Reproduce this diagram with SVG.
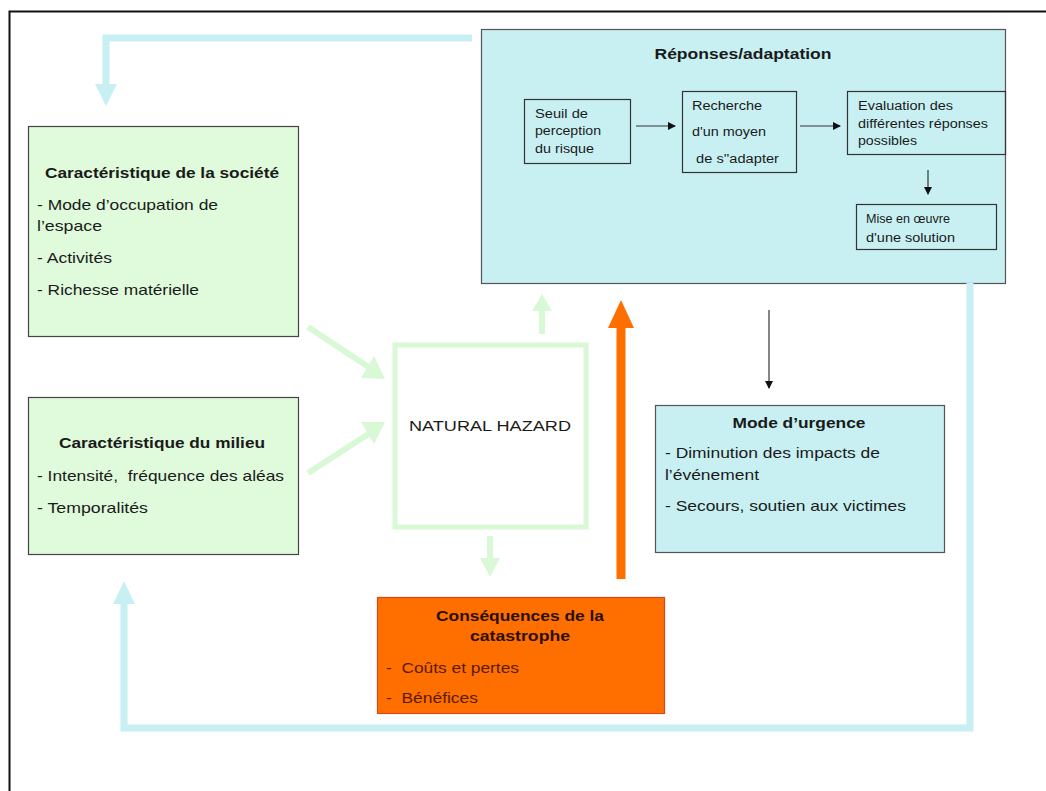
<svg xmlns="http://www.w3.org/2000/svg" width="1046" height="791" viewBox="0 0 1046 791" xml:space="preserve">
<style>
text{font-family:"Liberation Sans",Arial,sans-serif;fill:#1a1a1a;white-space:pre;}
.t{font-size:15px;}
.b{font-size:15px;font-weight:bold;}
.s{font-size:12.5px;}
.cyan{fill:#c8f0f2;stroke:#555;stroke-width:1.2;}
.green{fill:#e0fadc;stroke:#444;stroke-width:1.2;}
.sm{fill:none;stroke:#333;stroke-width:1.2;}
.lc{fill:none;stroke:#c8f0f2;stroke-width:7;}
.lg{fill:none;stroke:#d9f8d6;stroke-width:6;}
</style>
<defs>
<marker id="ab" markerWidth="8" markerHeight="8" refX="7" refY="4" orient="auto" markerUnits="userSpaceOnUse"><path d="M0,0 L8,4 L0,8 z" fill="#111"/></marker>
</defs>
<rect width="1046" height="791" fill="#fff"/>
<path d="M9.5,791 V11.5 H1046" fill="none" stroke="#111" stroke-width="2"/>

<g id="reponses">
<rect class="cyan" x="481.5" y="29.5" width="524" height="254"/>
<text class="b" x="743" y="59" text-anchor="middle" textLength="177" lengthAdjust="spacingAndGlyphs">Réponses/adaptation</text>
</g>
<g id="seuil">
<rect class="sm" x="524.5" y="99.5" width="106" height="64"/>
<text class="s" x="535" y="118" textLength="53" lengthAdjust="spacingAndGlyphs">Seuil de</text>
<text class="s" x="535" y="135" textLength="66" lengthAdjust="spacingAndGlyphs">perception</text>
<text class="s" x="535" y="153" textLength="59" lengthAdjust="spacingAndGlyphs">du risque</text>
</g>
<g id="recherche">
<rect class="sm" x="682.5" y="91.5" width="114" height="81"/>
<text class="s" x="692" y="110" textLength="70" lengthAdjust="spacingAndGlyphs">Recherche</text>
<text class="s" x="692" y="136" textLength="74" lengthAdjust="spacingAndGlyphs">d'un moyen</text>
<text class="s" x="692" y="163" textLength="87" lengthAdjust="spacingAndGlyphs"> de s''adapter</text>
</g>
<g id="evaluation">
<rect class="sm" x="847.5" y="91.5" width="158" height="63"/>
<text class="s" x="858" y="110" textLength="95" lengthAdjust="spacingAndGlyphs">Evaluation des</text>
<text class="s" x="858" y="128" textLength="130" lengthAdjust="spacingAndGlyphs">différentes réponses</text>
<text class="s" x="858" y="145" textLength="59" lengthAdjust="spacingAndGlyphs">possibles</text>
</g>
<g id="miseenoeuvre">
<rect class="sm" x="856.5" y="204.5" width="140" height="45"/>
<text class="s" x="866" y="223" textLength="84" lengthAdjust="spacingAndGlyphs">Mise en œuvre</text>
<text class="s" x="866" y="242" textLength="89" lengthAdjust="spacingAndGlyphs">d'une solution</text>
</g>

<g id="connectors">
<path class="lc" d="M472,38 H106 V86"/>
<path d="M95,84 H117 L106,106 z" fill="#c8f0f2"/>
<path class="lc" d="M970,283 V728 H124 V600"/>
<path d="M113,604 H135 L124,581 z" fill="#c8f0f2"/>
<line class="lg" x1="308" y1="327" x2="370" y2="368"/>
<path d="M361,378 L385,379 L374,356 z" fill="#d9f8d6"/>
<line class="lg" x1="308" y1="473" x2="370" y2="433"/>
<path d="M361,422 L385,422 L374,444 z" fill="#d9f8d6"/>
<line class="lg" x1="542" y1="334" x2="542" y2="310"/>
<path d="M532,311 H552 L542,294 z" fill="#d9f8d6"/>
<line class="lg" x1="490" y1="536" x2="490" y2="560"/>
<path d="M480,558 H500 L490,577 z" fill="#d9f8d6"/>
<line x1="621" y1="579" x2="621" y2="325" stroke="#ff6f00" stroke-width="9"/>
<path d="M608,328 H634 L621,300 z" fill="#ff6f00"/>
<line class="sm" x1="769" y1="310" x2="769" y2="388" marker-end="url(#ab)"/>
<line class="sm" x1="636" y1="126" x2="675" y2="126" marker-end="url(#ab)"/>
<line class="sm" x1="800" y1="126" x2="840" y2="126" marker-end="url(#ab)"/>
<line class="sm" x1="928" y1="170" x2="928" y2="194" marker-end="url(#ab)"/>
</g>

<g id="societe">
<rect class="green" x="28.5" y="126.5" width="270" height="210"/>
<text class="b" x="162" y="178" text-anchor="middle" textLength="234" lengthAdjust="spacingAndGlyphs">Caractéristique de la société</text>
<text class="t" x="37" y="210" textLength="181" lengthAdjust="spacingAndGlyphs">- Mode d’occupation de</text>
<text class="t" x="37" y="231" textLength="65" lengthAdjust="spacingAndGlyphs">l’espace</text>
<text class="t" x="37" y="263" textLength="75" lengthAdjust="spacingAndGlyphs">- Activités</text>
<text class="t" x="37" y="295" textLength="162" lengthAdjust="spacingAndGlyphs">- Richesse matérielle</text>
</g>

<g id="milieu">
<rect class="green" x="28.5" y="397.5" width="270" height="157"/>
<text class="b" x="162" y="448" text-anchor="middle" textLength="206" lengthAdjust="spacingAndGlyphs">Caractéristique du milieu</text>
<text class="t" x="37" y="481" textLength="247" lengthAdjust="spacingAndGlyphs">- Intensité,  fréquence des aléas</text>
<text class="t" x="37" y="513" textLength="111" lengthAdjust="spacingAndGlyphs">- Temporalités</text>
</g>

<g id="hazard">
<rect x="395" y="345" width="191" height="182" fill="#fff" stroke="#d9f8d6" stroke-width="5"/>
<text class="t" x="490" y="431" text-anchor="middle" textLength="162" lengthAdjust="spacingAndGlyphs">NATURAL HAZARD</text>
</g>

<g id="urgence">
<rect class="cyan" x="655.5" y="405.5" width="289" height="147"/>
<text class="b" x="799" y="428" text-anchor="middle" textLength="133" lengthAdjust="spacingAndGlyphs">Mode d’urgence</text>
<text class="t" x="665" y="458" textLength="215" lengthAdjust="spacingAndGlyphs">- Diminution des impacts de</text>
<text class="t" x="665" y="480" textLength="94" lengthAdjust="spacingAndGlyphs">l’événement</text>
<text class="t" x="665" y="511" textLength="241" lengthAdjust="spacingAndGlyphs">- Secours, soutien aux victimes</text>
</g>

<g id="consequences">
<rect x="377.5" y="597.5" width="287" height="116" fill="#ff6f00" stroke="#d9481a" stroke-width="1.2"/>
<text class="b" x="520" y="621" text-anchor="middle" textLength="168" lengthAdjust="spacingAndGlyphs" style="fill:#2a1000">Conséquences de la</text>
<text class="b" x="520" y="641" text-anchor="middle" textLength="100" lengthAdjust="spacingAndGlyphs" style="fill:#2a1000">catastrophe</text>
<text class="t" x="386" y="673" textLength="133" lengthAdjust="spacingAndGlyphs" style="fill:#5a1a00">-  Coûts et pertes</text>
<text class="t" x="386" y="703" textLength="92" lengthAdjust="spacingAndGlyphs" style="fill:#5a1a00">-  Bénéfices</text>
</g>
</svg>
